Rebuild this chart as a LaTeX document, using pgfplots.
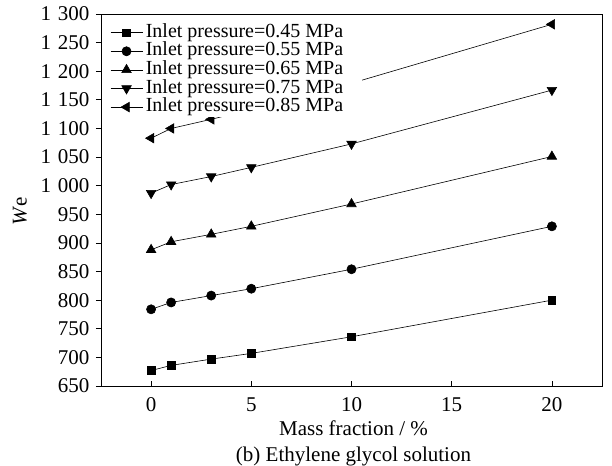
\documentclass[border=0pt]{standalone}
\usepackage{fontspec}
\setmainfont{Liberation Serif}
\usepackage{pgfplots}
\pgfplotsset{compat=1.18}
\begin{document}
\begin{tikzpicture}[font=\fontsize{21bp}{25bp}\selectfont]
\begin{axis}[
  scale only axis, width=501bp, height=372bp,
  xmin=-2.5, xmax=22.5, ymin=650, ymax=1300,
  xtick={0,5,10,15,20}, ytick={650,700,...,1300},
  xtick pos=bottom, ytick pos=left,
  tick align=inside, major tick length=5bp,
  ytick style={xshift=-5bp},
  tick style={black, line width=0.8bp},
  axis line style={line width=0.9bp},
  /pgf/number format/assume math mode=true,
  /pgf/number format/1000 sep={\hspace{0.33em}},
  yticklabel style={xshift=-8bp},
  xticklabel style={yshift=-8bp},
  xlabel={Mass fraction / \%},
  xlabel style={at={(axis description cs:0.5,0)}, anchor=base, yshift=-49bp, xshift=2bp},
  ylabel={\textit{W}e},
  ylabel style={at={(axis description cs:-0.1617,0.47)}, anchor=center},
  legend style={draw=none, fill=white, at={(0.016,0.978)}, anchor=north west,
    inner sep=1bp, row sep=0pt, font=\fontsize{20bp}{24bp}\selectfont,
    nodes={inner ysep=0pt, inner xsep=3bp, text height=14bp, text depth=4.6bp}},
  legend cell align=left,
  legend image code/.code={\draw[mark repeat=2,mark phase=2] plot coordinates {(0bp,0bp) (16bp,0bp) (32bp,0bp)};},
  every axis plot/.append style={black, line width=0.6bp, mark options={solid, fill=black}},
]
\addplot[mark=square*, mark size=3.8] coordinates {(0,677) (1,686) (3,697) (5,707) (10,736) (20,800)};
\addlegendentry{\makebox[212bp][l]{Inlet pressure=0.45 MPa}}
\addplot[mark=*, mark size=4.6] coordinates {(0,784) (1,796) (3,808) (5,820) (10,854) (20,929)};
\addlegendentry{Inlet pressure=0.55 MPa}
\addplot[mark=triangle*, mark size=5.5] coordinates {(0,888) (1,902) (3,915) (5,929) (10,968) (20,1051)};
\addlegendentry{Inlet pressure=0.65 MPa}
\addplot[mark=triangle*, mark size=5.5, mark options={rotate=180}] coordinates {(0,987) (1,1002) (3,1016) (5,1032) (10,1073) (20,1167)};
\addlegendentry{Inlet pressure=0.75 MPa}
\addplot[mark=triangle*, mark size=5.5, mark options={rotate=90}] coordinates {(0,1083) (1,1100) (3,1116) (5,1133) (10,1179) (20,1282)};
\addlegendentry{Inlet pressure=0.85 MPa}
\end{axis}
\node[anchor=base] at ([xshift=2bp, yshift=-75bp]current axis.south) {(b) Ethylene glycol solution};
\pgfresetboundingbox
\path ([shift={(-101bp,-80bp)}]current axis.south west) rectangle ([shift={(10bp,14bp)}]current axis.north east);
\end{tikzpicture}
\end{document}
